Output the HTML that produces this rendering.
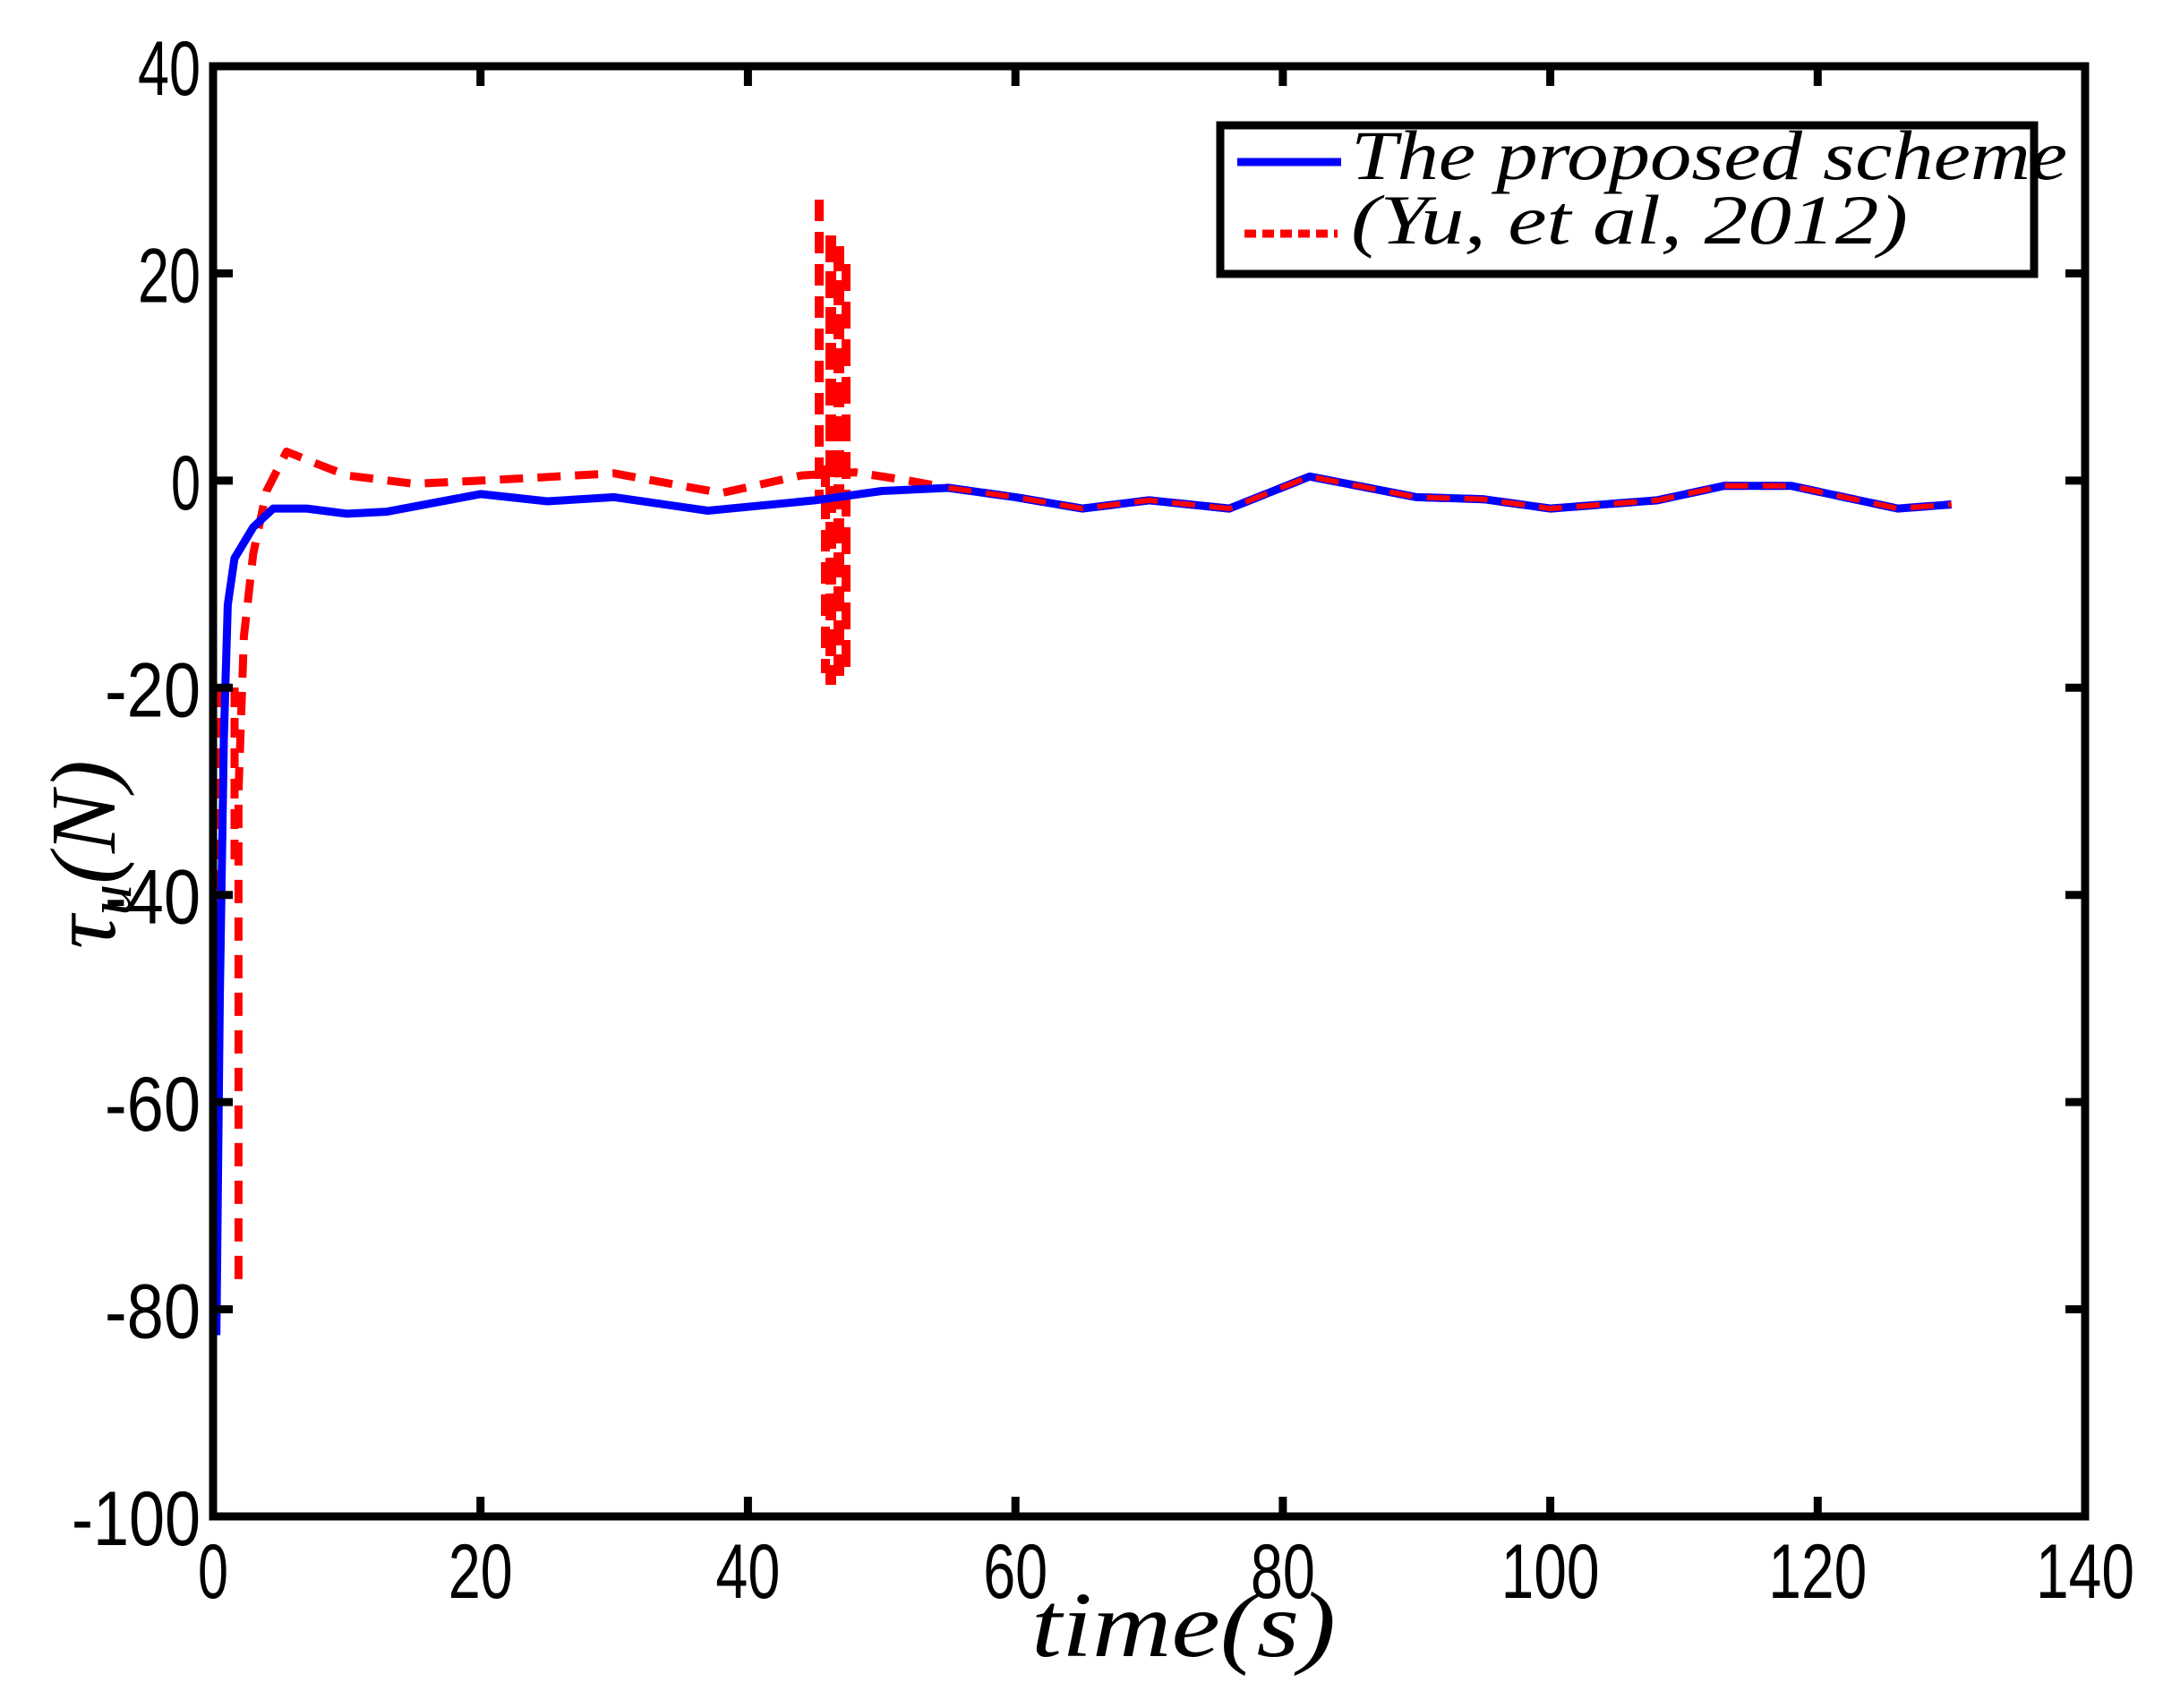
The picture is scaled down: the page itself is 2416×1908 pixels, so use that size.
<!DOCTYPE html>
<html><head><meta charset="utf-8"><style>html,body{margin:0;padding:0;background:#fff}svg{display:block}</style></head>
<body>
<svg width="2416" height="1908" viewBox="0 0 2416 1908" xmlns="http://www.w3.org/2000/svg">
<rect width="2416" height="1908" fill="#fff"/>
<g fill="none" stroke-linejoin="round">
<path d="M266.4,1428.9 L266.4,885 L272.4,711.4 L282.8,618.9 L297.7,548.5 L320.1,504.5 L357.5,519.5 L387.4,531.1 L462,540.4 L536.7,536.9 L686.1,528.8 L805.6,550.8 L895.2,531.1 L955,527.6 L1014.7,536.9 L1059.5,545 L1134.2,555.4 L1208.8,568.1 L1283.5,558.9 L1373.1,568.1 L1462.8,532.3 L1582.2,555.4 L1656.9,557.7 L1731.6,568.1 L1851.1,558.9 L1925.8,542.7 L2000.4,542.7 L2119.9,568.1 L2179.7,563.5" stroke="#ff0000" stroke-width="9" stroke-dasharray="26,16"/>
<line x1="243" y1="768" x2="243" y2="1173" stroke="#ff0000" stroke-width="9" stroke-dasharray="22,12"/>
<line x1="262" y1="768" x2="262" y2="965" stroke="#ff0000" stroke-width="9" stroke-dasharray="22,12"/>
<line x1="915" y1="223" x2="915" y2="560" stroke="#ff0000" stroke-width="10" stroke-dasharray="24,12"/>
<line x1="922" y1="520" x2="922" y2="752" stroke="#ff0000" stroke-width="10" stroke-dasharray="24,12"/>
<line x1="928" y1="263" x2="928" y2="765" stroke="#ff0000" stroke-width="12" stroke-dasharray="30,10"/>
<line x1="937" y1="275" x2="937" y2="755" stroke="#ff0000" stroke-width="12" stroke-dasharray="28,10"/>
<line x1="945" y1="295" x2="945" y2="745" stroke="#ff0000" stroke-width="10" stroke-dasharray="30,12"/>
<path d="M241.7,1491.5 L245.5,1115.6 L250,826.3 L254.4,675.7 L261.9,623.7 L282.8,589 L305.2,568.1 L342.6,568.1 L387.4,573.9 L432.2,571.6 L536.7,551.9 L611.4,560 L686.1,555.4 L790.6,570.5 L910.1,558.9 L984.8,548.5 L1059.5,545 L1134.2,555.4 L1208.8,568.1 L1283.5,558.9 L1373.1,568.1 L1462.8,532.3 L1582.2,555.4 L1656.9,557.7 L1731.6,568.1 L1851.1,558.9 L1925.8,542.7 L2000.4,542.7 L2119.9,568.1 L2179.7,563.5" stroke="#0000ff" stroke-width="9"/>
<path d="M1059.5,545 L1134.2,555.4 L1208.8,568.1 L1283.5,558.9 L1373.1,568.1 L1462.8,532.3 L1582.2,555.4 L1656.9,557.7 L1731.6,568.1 L1851.1,558.9 L1925.8,542.7 L2000.4,542.7 L2119.9,568.1 L2179.7,563.5" stroke="#ff0000" stroke-width="6" stroke-dasharray="26,16"/>
</g>
<rect x="238" y="74" width="2091" height="1620" fill="none" stroke="#000" stroke-width="9"/>
<g stroke="#000" stroke-width="9">
<line x1="536.7" y1="1694" x2="536.7" y2="1672"/><line x1="536.7" y1="74" x2="536.7" y2="96"/>
<line x1="835.4" y1="1694" x2="835.4" y2="1672"/><line x1="835.4" y1="74" x2="835.4" y2="96"/>
<line x1="1134.2" y1="1694" x2="1134.2" y2="1672"/><line x1="1134.2" y1="74" x2="1134.2" y2="96"/>
<line x1="1432.9" y1="1694" x2="1432.9" y2="1672"/><line x1="1432.9" y1="74" x2="1432.9" y2="96"/>
<line x1="1731.6" y1="1694" x2="1731.6" y2="1672"/><line x1="1731.6" y1="74" x2="1731.6" y2="96"/>
<line x1="2030.3" y1="1694" x2="2030.3" y2="1672"/><line x1="2030.3" y1="74" x2="2030.3" y2="96"/>
<line x1="238" y1="305.4" x2="260" y2="305.4"/><line x1="2329" y1="305.4" x2="2307" y2="305.4"/>
<line x1="238" y1="536.9" x2="260" y2="536.9"/><line x1="2329" y1="536.9" x2="2307" y2="536.9"/>
<line x1="238" y1="768.3" x2="260" y2="768.3"/><line x1="2329" y1="768.3" x2="2307" y2="768.3"/>
<line x1="238" y1="999.7" x2="260" y2="999.7"/><line x1="2329" y1="999.7" x2="2307" y2="999.7"/>
<line x1="238" y1="1231.1" x2="260" y2="1231.1"/><line x1="2329" y1="1231.1" x2="2307" y2="1231.1"/>
<line x1="238" y1="1462.6" x2="260" y2="1462.6"/><line x1="2329" y1="1462.6" x2="2307" y2="1462.6"/>
</g>
<g font-family="Liberation Sans, sans-serif" font-size="86" fill="#000" lengthAdjust="spacingAndGlyphs">
<text x="238" y="1785" text-anchor="middle" textLength="34" lengthAdjust="spacingAndGlyphs">0</text>
<text x="536.7" y="1785" text-anchor="middle" textLength="72" lengthAdjust="spacingAndGlyphs">20</text>
<text x="835.4" y="1785" text-anchor="middle" textLength="72" lengthAdjust="spacingAndGlyphs">40</text>
<text x="1134.2" y="1785" text-anchor="middle" textLength="72" lengthAdjust="spacingAndGlyphs">60</text>
<text x="1432.9" y="1785" text-anchor="middle" textLength="72" lengthAdjust="spacingAndGlyphs">80</text>
<text x="1731.6" y="1785" text-anchor="middle" textLength="110" lengthAdjust="spacingAndGlyphs">100</text>
<text x="2030.3" y="1785" text-anchor="middle" textLength="110" lengthAdjust="spacingAndGlyphs">120</text>
<text x="2329" y="1785" text-anchor="middle" textLength="110" lengthAdjust="spacingAndGlyphs">140</text>
<text x="154" y="106" textLength="70" lengthAdjust="spacingAndGlyphs">40</text>
<text x="154" y="337.4" textLength="70" lengthAdjust="spacingAndGlyphs">20</text>
<text x="191" y="568.9" textLength="33" lengthAdjust="spacingAndGlyphs">0</text>
<text x="117" y="800.3" textLength="107" lengthAdjust="spacingAndGlyphs">-20</text>
<text x="117" y="1031.7" textLength="107" lengthAdjust="spacingAndGlyphs">-40</text>
<text x="117" y="1263.1" textLength="107" lengthAdjust="spacingAndGlyphs">-60</text>
<text x="117" y="1494.6" textLength="107" lengthAdjust="spacingAndGlyphs">-80</text>
<text x="80" y="1726" textLength="144" lengthAdjust="spacingAndGlyphs">-100</text>
</g>
<g font-family="Liberation Serif, serif" font-style="italic" fill="#000">
<text x="1152" y="1850" font-size="104" textLength="340" lengthAdjust="spacingAndGlyphs">time(s)</text>
<text transform="translate(128,1060) rotate(-90)" font-size="104">τ<tspan font-size="70" dy="18">u</tspan><tspan dy="-18">(N)</tspan></text>
</g>
<rect x="1363" y="140" width="909" height="166" fill="#fff" stroke="#000" stroke-width="9"/>
<line x1="1382" y1="181" x2="1498" y2="181" stroke="#0000ff" stroke-width="9"/>
<line x1="1390" y1="261" x2="1494" y2="261" stroke="#ff0000" stroke-width="9" stroke-dasharray="13,7"/>
<text x="1509" y="200" font-family="Liberation Serif, serif" font-style="italic" font-size="78" textLength="800" lengthAdjust="spacingAndGlyphs">The proposed scheme</text>
<text x="1509" y="272" font-family="Liberation Serif, serif" font-style="italic" font-size="78" textLength="622" lengthAdjust="spacingAndGlyphs">(Yu, et al, 2012)</text>
</svg>
</body></html>
